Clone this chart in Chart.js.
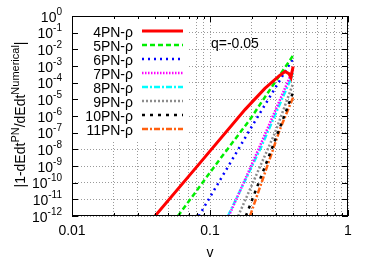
<!DOCTYPE html>
<html>
<head>
<meta charset="utf-8">
<script src="https://cdn.jsdelivr.net/npm/chart.js@4/dist/chart.umd.min.js"></script>
<style>
  html, body { margin: 0; padding: 0; background: #fff; }
  canvas { display: block; }
</style>
</head>
<body>
<canvas id="pnChart" width="376" height="263"></canvas>
<script>
// values: v and |1 - dEdt_PN / dEdt_num|
const v4PN = [0.040, 0.085, 0.18, 0.25, 0.32, 0.35, 0.373, 0.386, 0.40];
const e4PN = [1e-12, 1.6e-9, 2.5e-6, 4.5e-5, 2.7e-4, 4.7e-4, 3.5e-4, 2.0e-4, 9.3e-4];
const v5PN = [0.0586, 0.109, 0.195, 0.238, 0.40];
const e5PN = [1e-12, 1.07e-9, 6.2e-7, 7.4e-6, 4.3e-3];
const v6PN = [0.083, 0.195, 0.40];
const e6PN = [1e-12, 1.55e-7, 2.8e-3];
const v7PN = [0.137, 0.234, 0.40];
const e7PN = [1e-12, 2.2e-8, 6.2e-4];
const v8PN = [0.135, 0.234, 0.40];
const e8PN = [1e-12, 1.3e-8, 3.5e-4];
const v9PN = [0.160, 0.296, 0.40];
const e9PN = [1e-12, 1.0e-7, 8.9e-5];
const v10PN = [0.182, 0.311, 0.40];
const e10PN = [1e-12, 1.0e-7, 2.6e-5];
const v11PN = [0.195, 0.321, 0.40];
const e11PN = [1e-12, 1.55e-7, 1.3e-5];

const seriesLabels = ['4PN-ρ', '5PN-ρ', '6PN-ρ', '7PN-ρ', '8PN-ρ', '9PN-ρ', '10PN-ρ', '11PN-ρ'];
const xTicks = [0.01, 0.02, 0.03, 0.04, 0.05, 0.06, 0.07, 0.08, 0.09,
                0.1, 0.2, 0.3, 0.4, 0.5, 0.6, 0.7, 0.8, 0.9, 1];
const xTickLabels = { 0.01: '0.01', 0.1: '0.1', 1: '1' };
const yExponents = [0, -1, -2, -3, -4, -5, -6, -7, -8, -9, -10, -11, -12];
const annotation = 'q=-0.05';

const colors = ['#ff0000', '#00ee00', '#0000ff', '#ff00ff', '#00ffff', '#8c8c8c', '#000000', '#ff6010'];
const dashes = [[], [5, 3], [2, 4], [1.5, 1.5], [6, 2, 2, 2], [2, 2], [3, 5], [6, 2, 2, 2]];
const widths = [3, 2.5, 2.5, 2.5, 2.5, 2.5, 2.5, 2.5];

const xs = [v4PN, v5PN, v6PN, v7PN, v8PN, v9PN, v10PN, v11PN];
const ys = [e4PN, e5PN, e6PN, e7PN, e8PN, e9PN, e10PN, e11PN];

const datasets = seriesLabels.map((lab, i) => ({
  label: lab,
  data: xs[i].map((x, j) => ({ x: x, y: ys[i][j] })),
  showLine: true,
  borderColor: colors[i],
  backgroundColor: colors[i],
  borderWidth: widths[i],
  borderDash: dashes[i],
  pointRadius: 0,
  tension: 0
}));

const FONT = '"Liberation Sans", Arial, sans-serif';

// frame, inward ticks, labels and key, gnuplot style
const gnuplotLook = {
  id: 'gnuplotLook',
  beforeDatasetsDraw(chart) {
    const { ctx, chartArea: a } = chart;
    ctx.save();
    ctx.fillStyle = '#fff';
    ctx.fillRect(a.left + 1, a.top + 1, 116, 124);
    ctx.restore();
  },
  afterDraw(chart) {
    const { ctx, chartArea: a, scales } = chart;
    const sx = scales.x, sy = scales.y;
    ctx.save();

    // ticks
    ctx.strokeStyle = '#000';
    ctx.lineWidth = 1;
    ctx.beginPath();
    xTicks.forEach(t => {
      const px = Math.round(sx.getPixelForValue(t)) + 0.5;
      const len = xTickLabels[t] ? 6 : 3;
      ctx.moveTo(px, a.bottom); ctx.lineTo(px, a.bottom - len);
      ctx.moveTo(px, a.top); ctx.lineTo(px, a.top + len);
    });
    yExponents.forEach(e => {
      const py = Math.round(sy.getPixelForValue(Math.pow(10, e))) + 0.5;
      ctx.moveTo(a.left, py); ctx.lineTo(a.left + 6, py);
      ctx.moveTo(a.right, py); ctx.lineTo(a.right - 6, py);
    });
    ctx.stroke();

    // frame
    ctx.strokeRect(a.left + 0.5, a.top + 0.5, a.right - a.left - 1, a.bottom - a.top - 1);

    ctx.fillStyle = '#000';
    ctx.textBaseline = 'alphabetic';

    // y tick labels 10^n
    yExponents.forEach(e => {
      const py = sy.getPixelForValue(Math.pow(10, e));
      const ex = String(e);
      ctx.font = '10px ' + FONT;
      const ew = ctx.measureText(ex).width;
      ctx.textAlign = 'left';
      ctx.fillText(ex, 62 - ew, py - 1.5);
      ctx.font = '14px ' + FONT;
      ctx.textAlign = 'right';
      ctx.fillText('10', 62 - ew, py + 5.5);
    });

    // x tick labels
    ctx.font = '14px ' + FONT;
    ctx.textAlign = 'center';
    Object.keys(xTickLabels).forEach(k => {
      ctx.fillText(xTickLabels[k], sx.getPixelForValue(Number(k)), 235);
    });
    ctx.fillText('v', (a.left + a.right) / 2, 257);

    // y title with superscripts
    const parts = [['|1-dEdt', 0], ['PN', 1], ['/dEdt', 0], ['Numerical', 1], ['|', 0]];
    const fontFor = s => (s ? '11px ' : '14px ') + FONT;
    let total = 0;
    parts.forEach(p => { ctx.font = fontFor(p[1]); total += ctx.measureText(p[0]).width; });
    ctx.save();
    ctx.translate(25, 114.5);
    ctx.rotate(-Math.PI / 2);
    ctx.textAlign = 'left';
    let cx = -total / 2;
    parts.forEach(p => {
      ctx.font = fontFor(p[1]);
      ctx.fillText(p[0], cx, p[1] ? -6 : 0);
      cx += ctx.measureText(p[0]).width;
    });
    ctx.restore();

    // key
    ctx.font = '14px ' + FONT;
    ctx.textAlign = 'right';
    seriesLabels.forEach((lab, i) => {
      const cy = 32 + 14 * i;
      ctx.fillStyle = '#000';
      ctx.fillText(lab, 133, cy + 5);
      ctx.save();
      ctx.strokeStyle = colors[i];
      ctx.lineWidth = widths[i];
      ctx.setLineDash(dashes[i]);
      ctx.beginPath();
      ctx.moveTo(142, cy - 1);
      ctx.lineTo(183, cy - 1);
      ctx.stroke();
      ctx.restore();
    });

    // annotation
    ctx.textAlign = 'left';
    ctx.fillStyle = '#000';
    ctx.fillText(annotation, 211, 48);

    ctx.restore();
  }
};

const gridOpts = {
  color: '#9a9a9a',
  lineWidth: 1,
  drawTicks: false
};

new Chart(document.getElementById('pnChart').getContext('2d'), {
  type: 'scatter',
  data: { datasets: datasets },
  options: {
    responsive: false,
    animation: false,
    events: [],
    layout: { padding: { left: 0, top: 16, right: 28, bottom: 0 } },
    plugins: {
      legend: { display: false },
      tooltip: { enabled: false }
    },
    scales: {
      x: {
        type: 'logarithmic',
        min: 0.01,
        max: 1,
        grid: gridOpts,
        border: { display: false, dash: [1, 2] },
        ticks: { display: false },
        afterBuildTicks: s => { s.ticks = xTicks.map(v => ({ value: v })); },
        afterFit: s => { s.height = 47; }
      },
      y: {
        type: 'logarithmic',
        min: 1e-12,
        max: 1,
        grid: gridOpts,
        border: { display: false, dash: [1, 2] },
        ticks: { display: false },
        afterBuildTicks: s => { s.ticks = yExponents.map(e => ({ value: Math.pow(10, e) })); },
        afterFit: s => { s.width = 72; }
      }
    }
  },
  plugins: [gnuplotLook]
});
</script>
</body>
</html>
